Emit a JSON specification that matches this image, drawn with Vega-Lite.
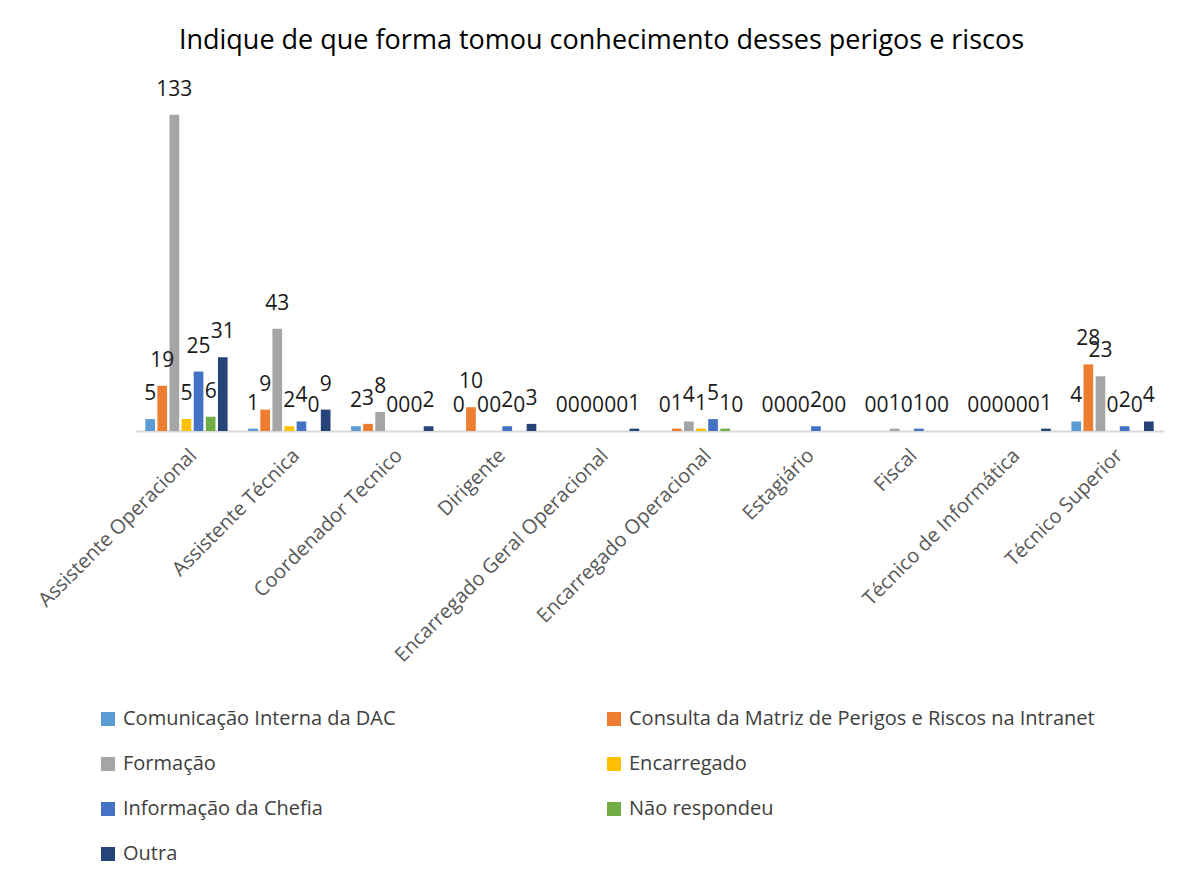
{
  "$schema": "https://vega.github.io/schema/vega-lite/v6.json",
  "width": 1029,
  "height": 333,
  "autosize": {"type": "none"},
  "padding": {"left": 135, "top": 98, "right": 28, "bottom": 453},
  "background": "white",
  "title": {
    "text": "Indique de que forma tomou conhecimento desses perigos e riscos",
    "anchor": "middle",
    "frame": "group",
    "dx": -48,
    "offset": 24,
    "font": "Open Sans",
    "fontSize": 27,
    "fontWeight": "normal",
    "color": "#000000"
  },
  "data": {
    "values": [
      {"cargo": "Assistente Operacional", "fonte": "Comunicação Interna da DAC", "n": 5},
      {"cargo": "Assistente Operacional", "fonte": "Consulta da Matriz de Perigos e Riscos na Intranet", "n": 19},
      {"cargo": "Assistente Operacional", "fonte": "Formação", "n": 133},
      {"cargo": "Assistente Operacional", "fonte": "Encarregado", "n": 5},
      {"cargo": "Assistente Operacional", "fonte": "Informação da Chefia", "n": 25},
      {"cargo": "Assistente Operacional", "fonte": "Não respondeu", "n": 6},
      {"cargo": "Assistente Operacional", "fonte": "Outra", "n": 31},
      {"cargo": "Assistente Técnica", "fonte": "Comunicação Interna da DAC", "n": 1},
      {"cargo": "Assistente Técnica", "fonte": "Consulta da Matriz de Perigos e Riscos na Intranet", "n": 9},
      {"cargo": "Assistente Técnica", "fonte": "Formação", "n": 43},
      {"cargo": "Assistente Técnica", "fonte": "Encarregado", "n": 2},
      {"cargo": "Assistente Técnica", "fonte": "Informação da Chefia", "n": 4},
      {"cargo": "Assistente Técnica", "fonte": "Não respondeu", "n": 0},
      {"cargo": "Assistente Técnica", "fonte": "Outra", "n": 9},
      {"cargo": "Coordenador Tecnico", "fonte": "Comunicação Interna da DAC", "n": 2},
      {"cargo": "Coordenador Tecnico", "fonte": "Consulta da Matriz de Perigos e Riscos na Intranet", "n": 3},
      {"cargo": "Coordenador Tecnico", "fonte": "Formação", "n": 8},
      {"cargo": "Coordenador Tecnico", "fonte": "Encarregado", "n": 0},
      {"cargo": "Coordenador Tecnico", "fonte": "Informação da Chefia", "n": 0},
      {"cargo": "Coordenador Tecnico", "fonte": "Não respondeu", "n": 0},
      {"cargo": "Coordenador Tecnico", "fonte": "Outra", "n": 2},
      {"cargo": "Dirigente", "fonte": "Comunicação Interna da DAC", "n": 0},
      {"cargo": "Dirigente", "fonte": "Consulta da Matriz de Perigos e Riscos na Intranet", "n": 10},
      {"cargo": "Dirigente", "fonte": "Formação", "n": 0},
      {"cargo": "Dirigente", "fonte": "Encarregado", "n": 0},
      {"cargo": "Dirigente", "fonte": "Informação da Chefia", "n": 2},
      {"cargo": "Dirigente", "fonte": "Não respondeu", "n": 0},
      {"cargo": "Dirigente", "fonte": "Outra", "n": 3},
      {"cargo": "Encarregado Geral Operacional", "fonte": "Comunicação Interna da DAC", "n": 0},
      {"cargo": "Encarregado Geral Operacional", "fonte": "Consulta da Matriz de Perigos e Riscos na Intranet", "n": 0},
      {"cargo": "Encarregado Geral Operacional", "fonte": "Formação", "n": 0},
      {"cargo": "Encarregado Geral Operacional", "fonte": "Encarregado", "n": 0},
      {"cargo": "Encarregado Geral Operacional", "fonte": "Informação da Chefia", "n": 0},
      {"cargo": "Encarregado Geral Operacional", "fonte": "Não respondeu", "n": 0},
      {"cargo": "Encarregado Geral Operacional", "fonte": "Outra", "n": 1},
      {"cargo": "Encarregado Operacional", "fonte": "Comunicação Interna da DAC", "n": 0},
      {"cargo": "Encarregado Operacional", "fonte": "Consulta da Matriz de Perigos e Riscos na Intranet", "n": 1},
      {"cargo": "Encarregado Operacional", "fonte": "Formação", "n": 4},
      {"cargo": "Encarregado Operacional", "fonte": "Encarregado", "n": 1},
      {"cargo": "Encarregado Operacional", "fonte": "Informação da Chefia", "n": 5},
      {"cargo": "Encarregado Operacional", "fonte": "Não respondeu", "n": 1},
      {"cargo": "Encarregado Operacional", "fonte": "Outra", "n": 0},
      {"cargo": "Estagiário", "fonte": "Comunicação Interna da DAC", "n": 0},
      {"cargo": "Estagiário", "fonte": "Consulta da Matriz de Perigos e Riscos na Intranet", "n": 0},
      {"cargo": "Estagiário", "fonte": "Formação", "n": 0},
      {"cargo": "Estagiário", "fonte": "Encarregado", "n": 0},
      {"cargo": "Estagiário", "fonte": "Informação da Chefia", "n": 2},
      {"cargo": "Estagiário", "fonte": "Não respondeu", "n": 0},
      {"cargo": "Estagiário", "fonte": "Outra", "n": 0},
      {"cargo": "Fiscal", "fonte": "Comunicação Interna da DAC", "n": 0},
      {"cargo": "Fiscal", "fonte": "Consulta da Matriz de Perigos e Riscos na Intranet", "n": 0},
      {"cargo": "Fiscal", "fonte": "Formação", "n": 1},
      {"cargo": "Fiscal", "fonte": "Encarregado", "n": 0},
      {"cargo": "Fiscal", "fonte": "Informação da Chefia", "n": 1},
      {"cargo": "Fiscal", "fonte": "Não respondeu", "n": 0},
      {"cargo": "Fiscal", "fonte": "Outra", "n": 0},
      {"cargo": "Técnico de Informática", "fonte": "Comunicação Interna da DAC", "n": 0},
      {"cargo": "Técnico de Informática", "fonte": "Consulta da Matriz de Perigos e Riscos na Intranet", "n": 0},
      {"cargo": "Técnico de Informática", "fonte": "Formação", "n": 0},
      {"cargo": "Técnico de Informática", "fonte": "Encarregado", "n": 0},
      {"cargo": "Técnico de Informática", "fonte": "Informação da Chefia", "n": 0},
      {"cargo": "Técnico de Informática", "fonte": "Não respondeu", "n": 0},
      {"cargo": "Técnico de Informática", "fonte": "Outra", "n": 1},
      {"cargo": "Técnico Superior", "fonte": "Comunicação Interna da DAC", "n": 4},
      {"cargo": "Técnico Superior", "fonte": "Consulta da Matriz de Perigos e Riscos na Intranet", "n": 28},
      {"cargo": "Técnico Superior", "fonte": "Formação", "n": 23},
      {"cargo": "Técnico Superior", "fonte": "Encarregado", "n": 0},
      {"cargo": "Técnico Superior", "fonte": "Informação da Chefia", "n": 2},
      {"cargo": "Técnico Superior", "fonte": "Não respondeu", "n": 0},
      {"cargo": "Técnico Superior", "fonte": "Outra", "n": 4}
    ]
  },
  "encoding": {
    "x": {
      "field": "cargo",
      "type": "nominal",
      "sort": null,
      "scale": {"paddingInner": 0.2, "paddingOuter": 0.1},
      "axis": {
        "title": null,
        "labelAngle": -45,
        "labelFont": "Open Sans",
        "labelFontSize": 20,
        "labelColor": "#595959",
        "labelPadding": 14,
        "ticks": false,
        "domainColor": "#d9d9d9",
        "domainWidth": 2,
        "labelLimit": 400
      }
    },
    "xOffset": {
      "field": "fonte",
      "type": "nominal",
      "scale": {
        "domain": ["Comunicação Interna da DAC", "Consulta da Matriz de Perigos e Riscos na Intranet", "Formação", "Encarregado", "Informação da Chefia", "Não respondeu", "Outra"],
        "paddingInner": 0.2
      }
    },
    "y": {
      "field": "n",
      "type": "quantitative",
      "scale": {"domain": [0, 140], "nice": false},
      "axis": null
    }
  },
  "layer": [
    {
      "mark": {"type": "bar"},
      "encoding": {
        "color": {
          "field": "fonte",
          "type": "nominal",
          "scale": {
            "domain": ["Comunicação Interna da DAC", "Formação", "Informação da Chefia", "Outra", "Consulta da Matriz de Perigos e Riscos na Intranet", "Encarregado", "Não respondeu"],
            "range": ["#5B9BD5", "#A5A5A5", "#4472C4", "#264478", "#ED7D31", "#FFC000", "#70AD47"]
          },
          "legend": {
            "title": null,
            "orient": "none",
            "legendX": -37,
            "legendY": 611,
            "columns": 2,
            "columnPadding": 208,
            "rowPadding": 25,
            "symbolType": "square",
            "symbolSize": 196,
            "symbolStrokeWidth": 0,
            "labelFont": "Open Sans",
            "labelFontSize": 20,
            "labelColor": "#404040",
            "labelOffset": 5,
            "labelLimit": 600
          }
        }
      }
    },
    {
      "mark": {
        "type": "text",
        "baseline": "alphabetic",
        "dy": -19,
        "font": "Open Sans",
        "fontSize": 21,
        "color": "#1a1a1a"
      },
      "encoding": {
        "text": {"field": "n", "type": "quantitative"}
      }
    }
  ],
  "config": {
    "view": {"stroke": null}
  }
}
